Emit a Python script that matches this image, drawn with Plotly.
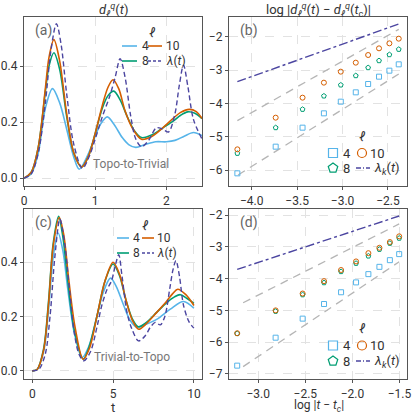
import math
import plotly.graph_objects as go

# ---------------- data ----------------
# panel (a): Topo-to-Trivial, d_l^q(t)
a_t4 = [0, 0.1, 0.2, 0.3, 0.4, 0.5, 0.6, 0.7, 0.775, 0.9, 1.0, 1.08, 1.17, 1.27, 1.38, 1.47, 1.57, 1.7, 1.85, 2.0, 2.12, 2.25, 2.38, 2.5]
a_y4 = [0, 0.015, 0.09, 0.25, 0.32, 0.27, 0.175, 0.075, 0.032, 0.085, 0.15, 0.195, 0.219, 0.19, 0.145, 0.12, 0.11, 0.12, 0.13, 0.13, 0.135, 0.15, 0.163, 0.152]
a_t8 = [0, 0.1, 0.2, 0.3, 0.35, 0.42, 0.5, 0.6, 0.7, 0.81, 0.9, 1.0, 1.1, 1.18, 1.26, 1.35, 1.45, 1.55, 1.65, 1.8, 1.95, 2.1, 2.2, 2.3, 2.4, 2.5]
a_y8 = [0, 0.02, 0.11, 0.31, 0.4, 0.448, 0.39, 0.22, 0.09, 0.04, 0.075, 0.16, 0.25, 0.295, 0.311, 0.28, 0.22, 0.17, 0.145, 0.155, 0.18, 0.205, 0.225, 0.237, 0.232, 0.213]
a_t10 = [0, 0.1, 0.2, 0.3, 0.35, 0.42, 0.5, 0.6, 0.7, 0.81, 0.9, 1.0, 1.1, 1.18, 1.25, 1.33, 1.42, 1.52, 1.65, 1.8, 1.95, 2.1, 2.2, 2.32, 2.42, 2.5]
a_y10 = [0, 0.02, 0.11, 0.32, 0.43, 0.495, 0.42, 0.23, 0.09, 0.04, 0.075, 0.16, 0.26, 0.325, 0.352, 0.32, 0.24, 0.18, 0.139, 0.15, 0.18, 0.215, 0.235, 0.246, 0.238, 0.213]
a_tl = [0, 0.1, 0.2, 0.3, 0.38, 0.455, 0.52, 0.6, 0.7, 0.82, 0.92, 1.0, 1.1, 1.2, 1.28, 1.35, 1.42, 1.5, 1.57, 1.65, 1.75, 1.86, 1.95, 2.03, 2.12, 2.18, 2.24, 2.3, 2.38, 2.5]
a_yl = [0, 0.015, 0.09, 0.27, 0.46, 0.552, 0.48, 0.3, 0.12, 0.035, 0.08, 0.14, 0.22, 0.29, 0.36, 0.427, 0.36, 0.22, 0.14, 0.112, 0.135, 0.18, 0.175, 0.165, 0.23, 0.33, 0.404, 0.33, 0.21, 0.14]

# panel (c): Trivial-to-Topo
c_t4 = [0, 0.3, 0.7, 1.0, 1.3, 1.6, 1.9, 2.2, 2.6, 3.09, 3.5, 4.0, 4.4, 4.84, 5.2, 5.66, 6.07, 6.48, 7.0, 7.72, 8.54, 9.36, 10]
c_y4 = [0, 0.005, 0.07, 0.22, 0.42, 0.507, 0.44, 0.3, 0.14, 0.049, 0.09, 0.2, 0.29, 0.341, 0.31, 0.24, 0.184, 0.16, 0.17, 0.19, 0.227, 0.255, 0.23]
c_t8 = [0, 0.3, 0.7, 1.0, 1.3, 1.63, 1.9, 2.2, 2.6, 3.15, 3.5, 4.0, 4.5, 5.0, 5.4, 5.8, 6.2, 6.55, 7.0, 7.7, 8.3, 8.8, 9.16, 9.6, 10]
c_y8 = [0, 0.005, 0.08, 0.25, 0.47, 0.568, 0.49, 0.33, 0.15, 0.043, 0.085, 0.2, 0.33, 0.393, 0.35, 0.26, 0.19, 0.162, 0.175, 0.215, 0.25, 0.272, 0.28, 0.265, 0.248]
c_t10 = [0, 0.3, 0.7, 1.0, 1.3, 1.67, 1.95, 2.25, 2.65, 3.15, 3.55, 4.0, 4.5, 5.0, 5.4, 5.8, 6.2, 6.58, 7.0, 7.7, 8.3, 8.7, 9.0, 9.5, 10]
c_y10 = [0, 0.005, 0.075, 0.24, 0.46, 0.564, 0.5, 0.34, 0.16, 0.043, 0.085, 0.2, 0.33, 0.399, 0.355, 0.26, 0.185, 0.153, 0.17, 0.215, 0.255, 0.285, 0.30, 0.28, 0.24]
c_tl = [0, 0.4, 0.8, 1.1, 1.4, 1.71, 2.0, 2.3, 2.6, 2.9, 3.19, 3.6, 4.0, 4.3, 4.63, 4.9, 5.15, 5.35, 5.55, 5.86, 6.17, 6.58, 7.0, 7.3, 7.61, 7.92, 8.2, 8.5, 8.7, 8.89, 9.1, 9.36, 9.7, 10]
c_yl = [0, 0.005, 0.06, 0.2, 0.42, 0.558, 0.47, 0.3, 0.14, 0.06, 0.037, 0.07, 0.16, 0.24, 0.30, 0.33, 0.39, 0.427, 0.35, 0.215, 0.153, 0.11, 0.13, 0.16, 0.178, 0.169, 0.2, 0.3, 0.37, 0.405, 0.35, 0.24, 0.18, 0.157]

# panel (b): log|d(t)-d(tc)| vs log|t-tc|
b_x = [-4.158, -3.736, -3.44, -3.205, -3.019, -2.854, -2.718, -2.598, -2.484, -2.381]
b_y4 = [-6.10, -5.30, -4.73, -4.30, -3.95, -3.67, -3.42, -3.20, -3.02, -2.83]
b_y8 = [-5.50, -4.73, -4.18, -3.78, -3.45, -3.17, -2.93, -2.72, -2.54, -2.38]
b_y10 = [-5.38, -4.43, -3.83, -3.38, -3.05, -2.78, -2.55, -2.35, -2.20, -2.06]
b_lam_x = [-4.158, -2.381]
b_lam_y = [-3.35, -1.62]
b_g1_x = [-4.158, -2.381]
b_g1_y = [-4.52, -1.78]
b_g2_x = [-4.15, -2.381]
b_g2_y = [-6.15, -3.12]

# panel (d)
d_x = [-3.223, -2.815, -2.528, -2.301, -2.12, -1.961, -1.83, -1.713, -1.602, -1.503]
d_y4 = [-6.74, -5.86, -5.26, -4.80, -4.43, -4.12, -3.86, -3.63, -3.42, -3.23]
d_y8 = [-5.73, -5.03, -4.51, -4.13, -3.78, -3.52, -3.29, -3.08, -2.89, -2.73]
d_y10 = [-5.72, -5.00, -4.47, -4.08, -3.73, -3.46, -3.20, -3.03, -2.85, -2.67]
d_lam_x = [-3.223, -1.503]
d_lam_y = [-3.71, -2.03]
d_g1_x = [-3.16, -1.503]
d_g1_y = [-4.76, -2.28]
d_g2_x = [-3.16, -1.503]
d_g2_y = [-6.77, -3.47]

ell_labels = ["4", "8", "10"]

# ---------------- style ----------------
W = H = 415
C4, C8, C10, CL = "#56B4E9", "#009E73", "#D55E00", "#4B45A0"
GUIDE = "#b5b5b5"
FONT = "Roboto"
TXT = "#333333"


def px(x):
    return x / W


def py(y):
    return 1 - y / H


fig = go.Figure()


def line(x, y, color, ax, dash="solid", width=1.6):
    fig.add_trace(go.Scatter(x=x, y=y, mode="lines", xaxis=ax[0], yaxis=ax[1],
                             line=dict(color=color, width=width, dash=dash, shape="spline", smoothing=0.9),
                             showlegend=False, hoverinfo="skip"))


def pts(x, y, color, symbol, ax):
    fig.add_trace(go.Scatter(x=x, y=y, mode="markers", xaxis=ax[0], yaxis=ax[1],
                             marker=dict(symbol=symbol, size=5, color=color, line=dict(color=color, width=1)),
                             showlegend=False, hoverinfo="skip"))


def straight(x, y, color, dash, ax, width=1.3):
    fig.add_trace(go.Scatter(x=x, y=y, mode="lines", xaxis=ax[0], yaxis=ax[1],
                             line=dict(color=color, width=width, dash=dash),
                             showlegend=False, hoverinfo="skip"))


A = ("x", "y"); B = ("x2", "y2"); Cc = ("x3", "y3"); D = ("x4", "y4")

line(a_t4, a_y4, C4, A)
line(a_t8, a_y8, C8, A)
line(a_t10, a_y10, C10, A)
line(a_tl, a_yl, CL, A, dash="5px,3px", width=1.4)

line(c_t4, c_y4, C4, Cc)
line(c_t8, c_y8, C8, Cc)
line(c_t10, c_y10, C10, Cc)
line(c_tl, c_yl, CL, Cc, dash="5px,3px", width=1.4)

straight(b_g1_x, b_g1_y, GUIDE, "8px,6px", B)
straight(b_g2_x, b_g2_y, GUIDE, "8px,6px", B)
straight(b_lam_x, b_lam_y, CL, "dashdot", B, width=1.4)
pts(b_x, b_y4, C4, "square-open", B)
pts(b_x, b_y8, C8, "pentagon-open", B)
pts(b_x, b_y10, C10, "circle-open", B)

straight(d_g1_x, d_g1_y, GUIDE, "8px,6px", D)
straight(d_g2_x, d_g2_y, GUIDE, "8px,6px", D)
straight(d_lam_x, d_lam_y, CL, "dashdot", D, width=1.4)
pts(d_x, d_y4, C4, "square-open", D)
pts(d_x, d_y8, C8, "pentagon-open", D)
pts(d_x, d_y10, C10, "circle-open", D)


def axis(domain, rng, tickvals, fmt, anchor):
    return dict(domain=domain, range=rng, tickvals=tickvals, tickformat=fmt, anchor=anchor,
                showline=True, linecolor="#555555", linewidth=1.3, mirror=True,
                ticks="outside", ticklen=3, tickwidth=1, tickcolor="#555555",
                showgrid=True, gridcolor="#e2e2e2", griddash="dash", gridwidth=1,
                zeroline=False, automargin=False,
                tickfont=dict(family=FONT, size=12, color=TXT))


xa_dom = [px(24), px(202)]
xb_dom = [px(229), px(407)]
ytop_dom = [py(186), py(17)]
ybot_dom = [py(379), py(209)]

fig.update_layout(
    width=W, height=H, margin=dict(l=0, r=0, t=0, b=0),
    paper_bgcolor="white", plot_bgcolor="white",
    font=dict(family=FONT, color=TXT, size=12),
    xaxis=axis(xa_dom, [0, 2.5], [0, 1, 2], "d", "y"),
    yaxis=axis(ytop_dom, [-0.028, 0.576], [0, 0.2, 0.4], ".1f", "x"),
    xaxis2=axis(xb_dom, [-4.25, -2.29], [-4.0, -3.5, -3.0, -2.5], ".1f", "y2"),
    yaxis2=axis(ytop_dom, [-6.48, -1.41], [-6, -5, -4, -3, -2], "d", "x2"),
    xaxis3=axis(xa_dom, [-0.51, 10.5], [0, 5, 10], "d", "y3"),
    yaxis3=axis(ybot_dom, [-0.03, 0.595], [0, 0.2, 0.4], ".1f", "x3"),
    xaxis4=axis(xb_dom, [-3.31, -1.42], [-3.0, -2.5, -2.0, -1.5], ".1f", "y4"),
    yaxis4=axis(ybot_dom, [-7.16, -1.81], [-7, -6, -5, -4, -3, -2], "d", "x4"),
)

ann = []
shapes = []


def text(x, y, s, size=13, color=TXT, xanchor="center"):
    ann.append(dict(x=px(x), y=py(y), xref="paper", yref="paper", text=s, showarrow=False,
                    xanchor=xanchor, yanchor="middle", font=dict(family=FONT, size=size, color=color)))


# titles
text(113, 10, "<i>d</i><sub><i>ℓ</i></sub><sup><i>q</i></sup>(<i>t</i>)", size=13)
text(318, 10, "log |<i>d</i><sub><i>ℓ</i></sub><sup><i>q</i></sup>(<i>t</i>) − <i>d</i><sub><i>ℓ</i></sub><sup><i>q</i></sup>(<i>t</i><sub>c</sub>)|", size=13)
text(113, 407, "t", size=13)
text(319, 406, "log |<i>t</i> − <i>t<sub>c</sub></i>|", size=12)

# panel labels
for lab, x, y in [("(a)", 33, 31), ("(b)", 238, 31), ("(c)", 33, 222), ("(d)", 238, 222)]:
    text(x, y, lab, size=14, color="#666666", xanchor="left")

text(131, 164, "Topo-to-Trivial", size=12, color="#777777")
text(132, 357, "Trivial-to-Topo", size=12, color="#777777")

LAM = "<i>λ</i>(<i>t</i>)"
LAMK = "<i>λ<sub>k</sub></i>(<i>t</i>)"


def leg_line(x0, x1, y, color, dash="solid"):
    shapes.append(dict(type="line", xref="paper", yref="paper", x0=px(x0), x1=px(x1), y0=py(y), y1=py(y),
                       line=dict(color=color, width=1.6, dash=dash)))


def leg_square(cx, cy, color, r=4.5):
    shapes.append(dict(type="rect", xref="paper", yref="paper", x0=px(cx - r), x1=px(cx + r),
                       y0=py(cy + r), y1=py(cy - r), line=dict(color=color, width=1.2)))


def leg_circle(cx, cy, color, r=4.5):
    shapes.append(dict(type="circle", xref="paper", yref="paper", x0=px(cx - r), x1=px(cx + r),
                       y0=py(cy + r), y1=py(cy - r), line=dict(color=color, width=1.2)))


def leg_pent(cx, cy, color, r=5.0):
    ptsl = []
    for k in range(5):
        ang = math.pi / 2 + k * 2 * math.pi / 5
        ptsl.append((px(cx + r * math.cos(ang)), py(cy - r * math.sin(ang))))
    path = "M " + " L ".join(f"{a:.5f},{b:.5f}" for a, b in ptsl) + " Z"
    shapes.append(dict(type="path", xref="paper", yref="paper", path=path, line=dict(color=color, width=1.2)))


# legend (a)
text(152, 32, "<i>ℓ</i>", size=13)
leg_line(122, 137, 46, C4); text(140, 46, ell_labels[0], size=12, xanchor="left")
leg_line(148, 162, 46, C10); text(164, 46, ell_labels[2], size=12, xanchor="left")
leg_line(122, 137, 61, C8); text(140, 61, ell_labels[1], size=12, xanchor="left")
leg_line(148, 162, 61, CL, "3px,2px"); text(164, 61, LAM, size=12, xanchor="left")

# legend (c)
text(145, 225, "<i>ℓ</i>", size=13)
leg_line(117, 129, 238, C4); text(131, 238, ell_labels[0], size=12, xanchor="left")
leg_line(142, 154, 238, C10); text(155, 238, ell_labels[2], size=12, xanchor="left")
leg_line(117, 129, 253, C8); text(131, 253, ell_labels[1], size=12, xanchor="left")
leg_line(142, 154, 253, CL, "3px,2px"); text(155, 253, LAM, size=12, xanchor="left")

# legend (b)
text(362, 136, "<i>ℓ</i>", size=13)
leg_square(333, 153, C4); text(341, 153, ell_labels[0], size=13, xanchor="left")
leg_circle(362, 153, C10); text(368, 153, ell_labels[2], size=13, xanchor="left")
leg_pent(333, 168, C8); text(341, 168, ell_labels[1], size=13, xanchor="left")
leg_line(356, 370, 168, CL, "5px,2px,1px,2px"); text(372, 168, LAMK, size=13, xanchor="left")

# legend (d)
text(362, 328, "<i>ℓ</i>", size=13)
leg_square(333, 345.5, C4); text(341, 345.5, ell_labels[0], size=13, xanchor="left")
leg_circle(362, 345.5, C10); text(368, 345.5, ell_labels[2], size=13, xanchor="left")
leg_pent(333, 361, C8); text(341, 361, ell_labels[1], size=13, xanchor="left")
leg_line(356, 370, 361, CL, "5px,2px,1px,2px"); text(372, 361, LAMK, size=13, xanchor="left")

fig.update_layout(annotations=ann, shapes=shapes)
fig.write_html("out.html", config={"displayModeBar": False},
               post_script="document.body.style.margin='0';")
